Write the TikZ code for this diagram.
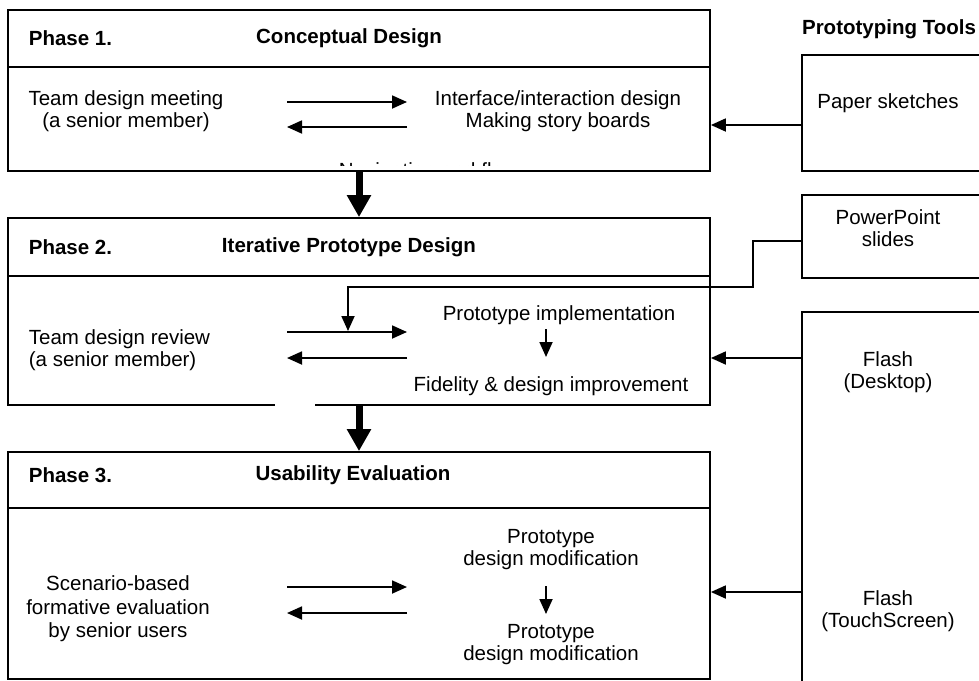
\documentclass[tikz,border=0pt]{standalone}
\usepackage{fontspec}
\setmainfont{Liberation Sans}
\usetikzlibrary{arrows.meta}
\begin{document}
\begin{tikzpicture}[x=0.5pt, y=-0.5pt, line width=0.9pt, font=\fontsize{10.25}{11}\selectfont]

\tikzstyle{phase}=[rectangle, draw, minimum width=351pt, inner sep=0pt]
\tikzstyle{tool}=[rectangle, draw, minimum width=96.5pt, inner sep=0pt]
\tikzstyle{txt}=[inner sep=0pt, align=center]
\tikzstyle{head}=[inner sep=0pt, font=\fontsize{10.25}{11}\selectfont\bfseries]
\tikzstyle{arrow}=[-{Triangle[length=7.5pt,width=6.5pt]}]
\tikzstyle{bigarrow}=[-{Triangle[length=11pt,width=11.5pt]}, line width=3.5pt]

\clip (0,0) rectangle (979,680);

% phase boxes
\node (p1) [phase, minimum height=80.5pt]  at (359,90.5)  {};
\node (p2) [phase, minimum height=93.5pt]  at (359,311.5) {};
\node (p3) [phase, minimum height=113.5pt] at (359,565.5) {};
\draw ([yshift=-29pt]p1.north west) -- ([yshift=-29pt]p1.north east);
\draw ([yshift=-29.5pt]p2.north west) -- ([yshift=-29.5pt]p2.north east);
\draw ([yshift=-28.5pt]p3.north west) -- ([yshift=-28.5pt]p3.north east);
\draw [white] (275,405) -- (315,405);

\node (h1) [head, anchor=west] at (28,38)  {Phase 1.};
\node (h2) [head, anchor=west] at (28,247) {Phase 2.};
\node (h3) [head, anchor=west] at (28,475) {Phase 3.};
\node (t1) [head] at (349,38)  {Conceptual Design};
\node (t2) [head] at (349,247) {Iterative Prototype Design};
\node (t3) [head] at (353,475) {Usability Evaluation};

% tools column
\node (tools) [head] at (889,29) {Prototyping Tools};
\node (paper) [tool, minimum height=58pt]    at (898.5,113)   {};
\node (ppt)   [tool, minimum height=41.5pt]  at (898.5,236.5) {};
\node (flash) [tool, minimum height=191.5pt] at (898.5,503.5) {};
\node (paperlbl) [txt] at (888,103) {Paper sketches};
\node (pptlbl)   [txt] at (888,228) {PowerPoint\\slides};
\node (flashd)   [txt] at (888,372) {Flash\\(Desktop)};
\node (flasht)   [txt] at (888,611) {Flash\\(TouchScreen)};

% phase contents
\node (meet)   [txt] at (126,111) {Team design meeting\\(a senior member)};
\node (story)  [txt] at (558,111) {Interface/interaction design\\Making story boards};
\node (review) [txt, anchor=west, align=left] at (28,350) {Team design review\\(a senior member)};
\node (impl)   [txt] at (559,315) {Prototype implementation};
\node (fid)    [txt] at (551,386) {Fidelity \& design improvement};
\node (eval)   [txt, font=\fontsize{10.25}{11.7}\selectfont] at (118,609) {Scenario-based\\formative evaluation\\by senior users};
\node (mod1)   [txt] at (551,550) {Prototype\\design modification};
\node (mod2)   [txt] at (551,645) {Prototype\\design modification};

% hidden label, only its tops show
\begin{scope}
\clip (p1.west |- 0,160) rectangle (p1.east |- 0,165);
\node (nav) [inner sep=0pt, anchor=base west] at (338,177) {Navigation and flow};
\end{scope}

% back and forth arrows
\foreach \n/\ya/\yb in {1/102/127, 2/332/358, 3/587/613} {
  \coordinate (l\n-a) at (287,\ya); \coordinate (r\n-a) at (407,\ya);
  \coordinate (l\n-b) at (287,\yb); \coordinate (r\n-b) at (407,\yb);
  \draw [arrow] (l\n-a) -- (r\n-a);
  \draw [arrow] (r\n-b) -- (l\n-b);
}

% small down arrows
\coordinate (d2-a) at (546,329); \coordinate (d2-b) at (546,357);
\coordinate (d3-a) at (546,586); \coordinate (d3-b) at (546,614);
\draw [arrow] (d2-a) -- (d2-b);
\draw [arrow] (d3-a) -- (d3-b);

% phase flow
\draw [bigarrow] (p1.south) -- (p2.north);
\draw [bigarrow] (p2.south) -- (p3.north);

% tool arrows
\draw [arrow] ([yshift=-6pt]paper.west) -- ([yshift=-6pt]paper.west -| p1.east);
\draw [arrow] ([yshift=72.75pt]flash.west) -- ([yshift=72.75pt]flash.west -| p2.east);
\draw [arrow] ([yshift=-44.25pt]flash.west) -- ([yshift=-44.25pt]flash.west -| p3.east);
\coordinate (join) at (348,331);
\coordinate (bend) at (753,287);
\draw [arrow] ([yshift=-2.25pt]ppt.west) -| (bend) -| (join);

\end{tikzpicture}
\end{document}
